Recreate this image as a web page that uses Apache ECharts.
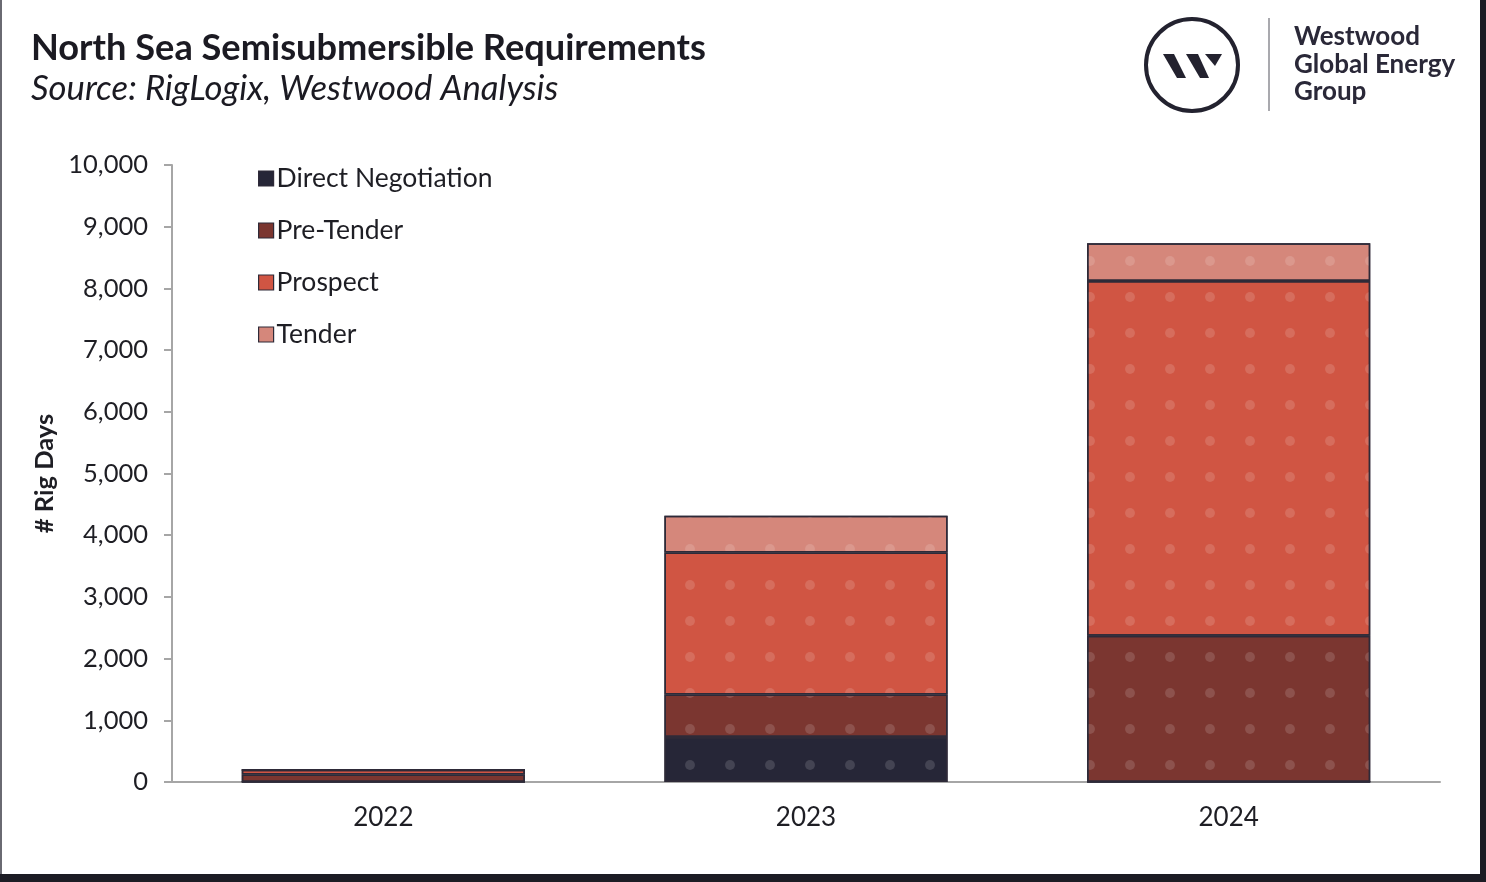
<!DOCTYPE html>
<html><head><meta charset="utf-8">
<script src="https://cdn.jsdelivr.net/npm/echarts@6/dist/echarts.min.js"></script>
<style>html,body{margin:0;padding:0;background:#fff}#c{width:1486px;height:882px}</style>
</head><body><div id="c"></div>
<script>
const categories = ['2022', '2023', '2024'];
const directNegotiation = [0, 730, 0];
const preTender = [120, 690, 2370];
const prospect = [80, 2300, 5750];
const tender = [0, 595, 610];
const yTicks = [0, 1000, 2000, 3000, 4000, 5000, 6000, 7000, 8000, 9000, 10000];

const colors = { dn: '#262637', pt: '#7b3630', pr: '#d05543', te: '#d5877b' };
const border = '#2e2a38';
const decal = { symbol: 'circle', symbolSize: 0.55, color: 'rgba(255,255,255,0.14)', dashArrayX: 20, dashArrayY: 18 };
const F = 'Lato, "Noto Sans", sans-serif';

function mk(name, data, color) {
  return {
    name, type: 'bar', stack: 'a', data, barCategoryGap: '33%',
    itemStyle: { color, borderColor: border, borderWidth: 1.5, decal },
    emphasis: { disabled: true }
  };
}

const chart = echarts.init(document.getElementById('c'), null, { renderer: 'canvas' });
chart.setOption({
  backgroundColor: '#fff',
  animation: false,
  textStyle: { fontFamily: F },
  grid: { left: 172, right: 46, top: 165, bottom: 100 },
  legend: {
    orient: 'vertical', left: 253, top: 160, itemGap: 25, itemWidth: 15, itemHeight: 15,
    icon: 'rect',
    data: ['Direct Negotiation', 'Pre-Tender', 'Prospect', 'Tender'],
    textStyle: { fontFamily: F, fontSize: 26.5, color: '#1e1e24', padding: [0, 0, 0, -2] },
    itemStyle: { borderColor: border, borderWidth: 1.2, decal: 'none' }
  },
  xAxis: {
    type: 'category', data: categories,
    axisLine: { lineStyle: { color: '#a6a6a6', width: 2 } },
    axisTick: { show: false },
    axisLabel: { fontFamily: F, fontSize: 26, color: '#1e1e24', margin: 23 }
  },
  yAxis: {
    type: 'value', min: 0, max: 10000, interval: 1000,
    name: '# Rig Days', nameLocation: 'middle', nameGap: 114, nameRotate: 90,
    nameTextStyle: { fontFamily: F, fontSize: 25.5, fontWeight: 'bold', color: '#1e1e24' },
    axisLine: { show: true, lineStyle: { color: '#a6a6a6', width: 2 } },
    axisTick: { show: true, length: 8, lineStyle: { color: '#a6a6a6', width: 2 } },
    splitLine: { show: false },
    axisLabel: {
      fontFamily: F, fontSize: 25.5, color: '#1e1e24', margin: 24,
      formatter: v => yTicks.includes(v) ? v.toLocaleString('en-US') : ''
    }
  },
  series: [
    mk('Direct Negotiation', directNegotiation, colors.dn),
    mk('Pre-Tender', preTender, colors.pt),
    mk('Prospect', prospect, colors.pr),
    mk('Tender', tender, colors.te)
  ],
  graphic: [
    { type: 'text', style: { x: 31, y: 48, verticalAlign: 'middle', text: 'North Sea Semisubmersible Requirements', font: 'bold 36.2px Lato, sans-serif', fill: '#1b1a22' } },
    { type: 'text', style: { x: 31, y: 89, verticalAlign: 'middle', text: 'Source: RigLogix, Westwood Analysis', font: 'italic 34.7px Lato, sans-serif', fill: '#1b1a22' } },
    { type: 'circle', shape: { cx: 1192, cy: 65, r: 46 }, style: { fill: 'none', stroke: '#23222f', lineWidth: 4 } },
    { type: 'polygon', shape: { points: [[1163, 54], [1174, 54], [1186, 78], [1177, 78]] }, style: { fill: '#23222f' } },
    { type: 'polygon', shape: { points: [[1186, 54], [1198, 54], [1209, 78], [1200, 78]] }, style: { fill: '#23222f' } },
    { type: 'polygon', shape: { points: [[1205, 54], [1222, 54], [1215, 66]] }, style: { fill: '#23222f' } },
    { type: 'line', shape: { x1: 1269, y1: 18, x2: 1269, y2: 111 }, style: { stroke: '#a9a9ae', lineWidth: 2 } },
    { type: 'text', left: 1294, top: 23, style: { text: 'Westwood\nGlobal Energy\nGroup', font: 'bold 26px Lato, sans-serif', lineHeight: 27.5, fill: '#2a2838' } },
    { type: 'rect', shape: { x: 0, y: 0, width: 2, height: 882 }, style: { fill: '#6a6a72' } },
    { type: 'rect', shape: { x: 1480, y: 0, width: 6, height: 882 }, style: { fill: '#1c1c24' } },
    { type: 'rect', shape: { x: 0, y: 874, width: 1486, height: 8 }, style: { fill: '#1c1c24' } }
  ]
});
</script></body></html>
